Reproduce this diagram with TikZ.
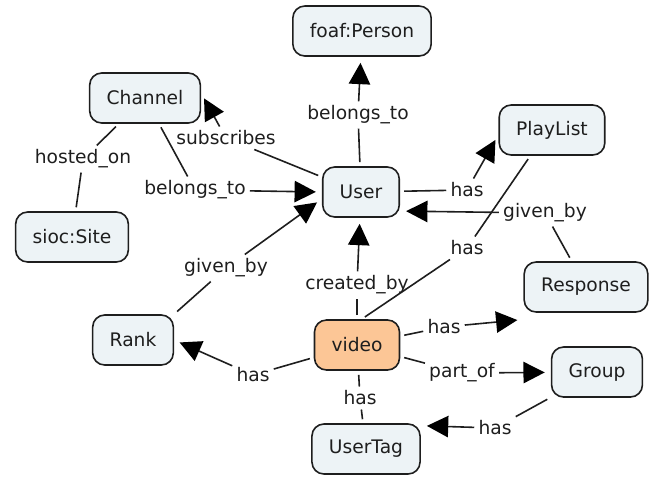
\documentclass[tikz,border=0pt]{standalone}
\usepackage{fontspec}
\setmainfont{DejaVu Sans}
\usetikzlibrary{arrows.meta}
\definecolor{conceptfill}{RGB}{237,243,246}
\definecolor{videofill}{RGB}{252,198,150}
\definecolor{inkgrey}{RGB}{30,30,30}
\tikzset{
  concept/.style = {shape=rectangle, rounded corners=9pt,
                    draw=inkgrey, line width=1.2pt, fill=conceptfill,
                    minimum height=37.5pt, inner xsep=12.75pt,
                    font=\fontsize{14pt}{16pt}\selectfont, text=inkgrey},
  media/.style   = {concept, fill=videofill},
  rel/.style     = {inner sep=3pt, font=\fontsize{14pt}{16pt}\selectfont, text=inkgrey},
  tail/.style    = {draw=inkgrey, line width=1.2pt, shorten <=3pt},
  head/.style    = {draw=inkgrey, line width=1.2pt,
                    -{Triangle[length=16pt,width=16pt,color=black]}, shorten >=4.5pt},
  bare/.style    = {draw=inkgrey, line width=1.2pt, shorten >=3pt}
}

\begin{document}
\begin{tikzpicture}[x=0.75pt, y=-0.75pt]
\useasboundingbox (0,0) rectangle (652,480);

% concepts
\node[concept] (person)   at (362,31)  {foaf:Person};
\node[concept] (channel)  at (145,98)  {Channel};
\node[concept] (site)     at (72,237)  {sioc:Site};
\node[concept] (user)     at (361,192) {User};
\node[concept] (playlist) at (552,130) {PlayList};
\node[concept] (response) at (586,287) {Response};
\node[concept] (rank)     at (133,340) {Rank};
\node[media]   (video)    at (357,345) {video};
\node[concept] (group)    at (597,372) {Group};
\node[concept] (usertag)  at (366,449) {UserTag};

% linking phrases
\node[rel] (userbelongs)  at (358,115) {belongs\_to};
\node[rel] (subscribes)   at (226,138) {subscribes};
\node[rel] (hosted)       at (83,159)  {hosted\_on};
\node[rel] (chanbelongs)  at (195,190) {belongs\_to};
\node[rel] (userhas)      at (467,190) {has};
\node[rel] (respgiven)    at (545,213) {given\_by};
\node[rel] (listhas)      at (467,248) {has};
\node[rel] (rankgiven)    at (226,268) {given\_by};
\node[rel] (created)      at (357,285) {created\_by};
\node[rel] (resphas)      at (444,327) {has};
\node[rel] (rankhas)      at (253,375) {has};
\node[rel] (partof)       at (462,373) {part\_of};
\node[rel] (taghas)       at (360,398) {has};
\node[rel] (grouphas)     at (495,428) {has};

% propositions
\draw[tail] (user) -- (userbelongs);      \draw[head] (userbelongs) -- (person);
\draw[tail] (user.159) -- (subscribes);   \draw[head] (subscribes) -- (channel.5);
\draw[tail] (channel) -- (hosted);        \draw[bare] (hosted) -- (site);
\draw[tail] (channel) -- (chanbelongs);   \draw[head] (chanbelongs) -- (user.west);
\draw[tail] (user) -- (userhas);          \draw[head] (userhas) -- (playlist.185);
\draw[tail] (response) -- (respgiven);    \draw[head] (respgiven) -- (user.334);
\draw[tail] (video.80) -- (listhas);      \draw[bare] (listhas) -- (playlist.230);
\draw[tail] (rank.north east) -- (rankgiven); \draw[head] (rankgiven) -- (user.190);
\draw[tail] (video) -- (created);         \draw[head] (created) -- (user);
\draw[tail] (video) -- (resphas);         \draw[head] (resphas) -- ([yshift=-5pt]response.south west);
\draw[tail] (video) -- (rankhas);         \draw[head] (rankhas) -- (rank.east);
\draw[tail] (video) -- (partof);          \draw[head] (partof) -- (group);
\draw[tail] (video) -- (taghas);          \draw[bare] (taghas) -- (usertag);
\draw[tail] (group) -- (grouphas);        \draw[head] (grouphas) -- (usertag.23);

\end{tikzpicture}
\end{document}
